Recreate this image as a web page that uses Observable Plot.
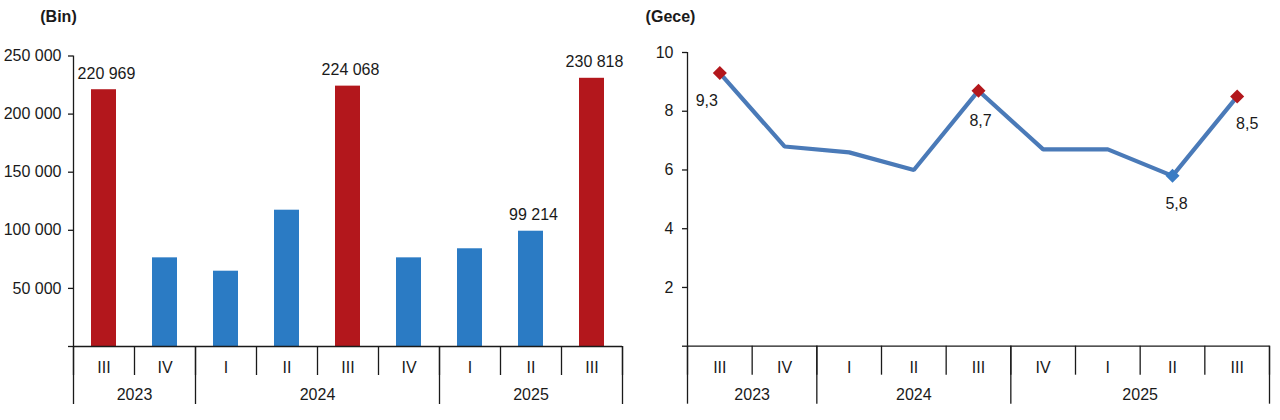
<!DOCTYPE html>
<html><head><meta charset="utf-8">
<script src="https://cdn.jsdelivr.net/npm/d3@7"></script>
<script src="https://cdn.jsdelivr.net/npm/@observablehq/plot@0.6"></script>
<style>
body{margin:0;background:#fff}
#wrap{display:flex;width:1280px;height:420px}
#wrap > div{width:640px;height:420px}
</style>
</head><body>
<div id="wrap"><div id="left"></div><div id="right"></div></div>
<script>
// ---- data ----
const quarters = ["III","IV","I","II","III","IV","I","II","III"];
const years = ["2023","2024","2025"];
const visitors = [220969, 76300, 64800, 117300, 224068, 76300, 84100, 99214, 230818];
const visitorLabelIdx = [0, 4, 7, 8];
const nights = [9.3, 6.8, 6.6, 6.0, 8.7, 6.7, 6.7, 5.8, 8.5];
const nightMarkerIdx = [0, 4, 7, 8];
const leftYearSpans = [[0, 2], [2, 6], [6, 9]];
const rightYearSpans = [[0, 2], [2, 5], [5, 9]];
const leftTicks = [0, 50000, 100000, 150000, 200000, 250000];
const rightTicks = [0, 2, 4, 6, 8, 10];

// ---- style ----
const RED = "#b3171c", BLUE = "#2b7bc4", LINE = "#4a7ab8", INK = "#1a1a1a";
const loc = d3.formatLocale({thousands: " ", grouping: [3], decimal: ","});
const fmtInt = loc.format(",");
const fmtDec = loc.format(".1f");
const style = {fontFamily: "'Liberation Sans', Arial, sans-serif", fontSize: "16px", color: INK, background: "#fff", overflow: "visible"};

function groupedAxis(spans) {
  const n = quarters.length;
  const centers = spans.map(s => (s[0] + s[1]) / 2);
  return [
    Plot.axisX({ticks: d3.range(n + 1), tickSize: 29, tickFormat: () => "", strokeWidth: 1.3}),
    Plot.axisX({ticks: [spans[0][0], ...spans.map(s => s[1])], tickSize: 58, tickFormat: () => "", strokeWidth: 1.3}),
    Plot.axisX({ticks: d3.range(n).map(i => i + 0.5), tickSize: 0, tickPadding: 15, tickFormat: v => quarters[Math.floor(v)], fill: INK}),
    Plot.axisX({ticks: centers, tickSize: 0, tickPadding: 42, tickFormat: v => years[centers.indexOf(v)], fill: INK})
  ];
}

// ---- left: visitors ----
const leftData = quarters.map((q, i) => ({i, q, v: visitors[i]}));
const left = Plot.plot({
  width: 640, height: 420,
  marginLeft: 73, marginRight: 18, marginTop: 55.5, marginBottom: 74,
  x: {type: "linear", domain: [0, quarters.length]},
  y: {domain: [0, 250000]},
  color: {type: "identity"},
  style,
  marks: [
    Plot.rectY(leftData, {x1: d => d.i, x2: d => d.i + 1, y: "v", fill: d => d.q === "III" ? RED : BLUE, insetLeft: 18, insetRight: 18}),
    Plot.ruleX([0], {stroke: INK, strokeWidth: 1.3}),
    Plot.ruleY([0], {stroke: INK, strokeWidth: 1.3}),
    Plot.axisY({ticks: leftTicks, tickSize: 5, tickPadding: 7, tickFormat: d => d === 0 ? "" : fmtInt(d), label: null, fill: INK, strokeWidth: 1.3}),
    ...groupedAxis(leftYearSpans),
    Plot.text(leftData.filter(d => visitorLabelIdx.includes(d.i)), {x: d => d.i + 0.5, y: "v", text: d => fmtInt(d.v), dx: 2.5, dy: -16, fill: INK}),
    Plot.text(["(Bin)"], {frameAnchor: "top-left", dx: -15, dy: -39.5, fontWeight: "bold", textAnchor: "middle", lineAnchor: "middle", fill: INK})
  ]
});
document.getElementById("left").append(left);

// ---- right: nights ----
const rightData = quarters.map((q, i) => ({i, q, v: nights[i]}));
function nightLabel(i, dx, dy) {
  return Plot.text(rightData, {filter: d => d.i === i, x: d => d.i + 0.5, y: "v", text: d => fmtDec(d.v), dx, dy, fill: INK});
}
const right = Plot.plot({
  width: 640, height: 420,
  marginLeft: 47, marginRight: 11, marginTop: 52, marginBottom: 74.3,
  x: {type: "linear", domain: [0, quarters.length]},
  y: {domain: [0, 10]},
  color: {type: "identity"},
  style,
  marks: [
    Plot.ruleX([0], {stroke: INK, strokeWidth: 1.3}),
    Plot.ruleY([0], {stroke: INK, strokeWidth: 1.3}),
    Plot.axisY({ticks: rightTicks, tickSize: 5, tickPadding: 9, tickFormat: d => d === 0 ? "" : String(d), label: null, fill: INK, strokeWidth: 1.3}),
    ...groupedAxis(rightYearSpans),
    Plot.line(rightData, {x: d => d.i + 0.5, y: "v", stroke: LINE, strokeWidth: 4.2, strokeLinejoin: "miter"}),
    Plot.dot(rightData.filter(d => nightMarkerIdx.includes(d.i)), {x: d => d.i + 0.5, y: "v", symbol: "square", rotate: 45, r: 5.6, fill: d => d.q === "III" ? RED : "#3a7cc4", stroke: "none"}),
    nightLabel(0, -13, 28),
    nightLabel(4, 2, 30),
    nightLabel(7, 4, 28),
    nightLabel(8, 10, 27),
    Plot.text(["(Gece)"], {frameAnchor: "top-left", dx: -17, dy: -36, fontWeight: "bold", textAnchor: "middle", lineAnchor: "middle", fill: INK})
  ]
});
document.getElementById("right").append(right);
</script>
</body></html>
